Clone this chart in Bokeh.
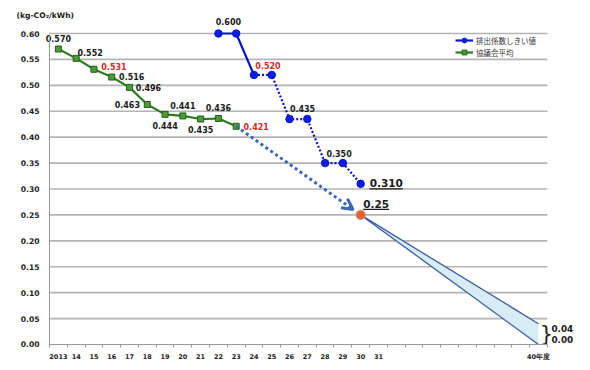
from bokeh.plotting import figure
from bokeh.models import (FixedTicker, Label, Legend, LegendItem, Arrow, OpenHead, Range1d)
from bokeh.embed import file_html
from bokeh.resources import INLINE
from bokeh.core.properties import value

# ---------------- data ----------------
tick_labels = ["2013", "14", "15", "16", "17", "18", "19", "20", "21", "22", "23",
               "24", "25", "26", "27", "28", "29", "30", "31",
               "", "", "", "", "", "", "", "", "40年度"]

green_x = [0, 1, 2, 3, 4, 5, 6, 7, 8, 9, 10]          # 2013 .. 2023
green_v = [0.570, 0.552, 0.531, 0.516, 0.496, 0.463, 0.444, 0.441, 0.435, 0.436, 0.421]
green_lbl = ["0.570", "0.552", "0.531", "0.516", "0.496", "0.463", "0.444", "0.441", "0.435", "0.436", "0.421"]
green_red = [False, False, True, False, False, False, False, False, False, False, True]

blue_x = [9, 10, 11, 12, 13, 14, 15, 16, 17]           # 2022 .. 2030
blue_v = [0.600, 0.600, 0.520, 0.520, 0.435, 0.435, 0.350, 0.350, 0.310]
blue_solid_n = 3                                        # 2022-2024 solid, then dotted

target_x = [17]     # 2030
target_v = [0.25]

goal_x = [27]       # 2040
goal_hi = [0.04]
goal_lo = [0.00]

y_ticks = [0.00, 0.05, 0.10, 0.15, 0.20, 0.25, 0.30, 0.35, 0.40, 0.45, 0.50, 0.55, 0.60]

# ---------------- styles / layout ----------------
W, H = 582, 362
BT = 10
AXIS_LEFT_PX = 49          # where the value axis sits
AXIS_TOP_PAD = 23          # px above the top tick
AXIS_BOTTOM_PAD = 18       # px below the category axis
XPX = 17.78                # px per category
YPX = 518.3                # px per unit
X0 = -0.5 - AXIS_LEFT_PX / XPX
X1 = X0 + W / XPX
Y1 = y_ticks[-1] + AXIS_TOP_PAD / YPX
Y0 = -AXIS_BOTTOM_PAD / YPX

FONT = value("DejaVu Sans")
BLACK = "#1a1a1a"
RED = "#d42a2a"
GREEN = "#2d7a1f"
BLUE = "#0a16c8"
ARROW = "#3a68b0"

p = figure(width=W, height=H, output_backend="svg", toolbar_location=None,
           x_range=Range1d(X0, X1), y_range=Range1d(Y0, Y1),
           min_border_left=0, min_border_top=BT, min_border_bottom=0, min_border_right=0)
p.outline_line_color = None
p.xgrid.visible = False
p.ygrid.visible = False

# axes
n_cat = len(tick_labels)
xa = p.xaxis[0]
xa.fixed_location = 0
xa.ticker = FixedTicker(ticks=list(range(n_cat)), minor_ticks=[i - 0.5 for i in range(n_cat + 1)])
xa.major_label_overrides = {i: t for i, t in enumerate(tick_labels)}
xa.bounds = (-0.5, n_cat - 0.5)
xa.major_tick_line_color = None
xa.major_tick_out = 0
xa.major_tick_in = 0
xa.minor_tick_out = 3
xa.minor_tick_in = 0
xa.minor_tick_line_color = "#9a9a9a"
xa.axis_line_color = "#9a9a9a"
xa.major_label_text_font = "DejaVu Sans"
xa.major_label_text_font_style = "bold"
xa.major_label_text_font_size = "6.5px"
xa.major_label_text_color = "#222222"
xa.major_label_standoff = 6

ya = p.yaxis[0]
ya.fixed_location = -0.5
ya.ticker = FixedTicker(ticks=y_ticks)
ya.bounds = (0, y_ticks[-1])
ya.major_label_overrides = {t: f"{t:.2f}" for t in y_ticks}
ya.major_tick_line_color = None
ya.major_tick_out = 0
ya.major_tick_in = 0
ya.minor_tick_line_color = None
ya.axis_line_color = "#9a9a9a"
ya.major_label_text_font = "DejaVu Sans"
ya.major_label_text_font_style = "bold"
ya.major_label_text_font_size = "7.6px"
ya.major_label_text_color = "#222222"
ya.major_label_standoff = 10

# horizontal grid lines (bounded to the category span)
gy = y_ticks[1:]
p.segment(x0=[-0.5] * len(gy), x1=[n_cat - 0.5] * len(gy), y0=gy, y1=gy,
          line_color="#b4b4b4", line_width=1.6)

# 2030 -> 2040 wedge
p.patch(x=[target_x[0], goal_x[0], goal_x[0]], y=[target_v[0], goal_hi[0], goal_lo[0]],
        fill_color="#d8ecf6", line_color=None)
p.segment(x0=[target_x[0], target_x[0]], y0=[target_v[0], target_v[0]],
          x1=[goal_x[0], goal_x[0]], y1=[goal_hi[0], goal_lo[0]],
          line_color="#3b5d9e", line_width=1.3)

# dotted arrow from 2023 average to 2030 target
frac = 0.94
ax_end = green_x[-1] + (target_x[0] - green_x[-1]) * frac
ay_end = green_v[-1] + (target_v[0] - green_v[-1]) * frac
p.add_layout(Arrow(x_start=green_x[-1], y_start=green_v[-1], x_end=ax_end, y_end=ay_end,
                   line_color=ARROW, line_width=3, line_dash="3 3",
                   end=OpenHead(size=11, line_color=ARROW, line_width=3)))

# green series
g_line = p.line(green_x, green_v, line_color=GREEN, line_width=2.2)
g_pts = p.scatter(green_x, green_v, marker="square", size=6, fill_color="#4d9a36",
                  line_color="#23601a", line_width=1)

# blue series
b_solid = p.line(blue_x[:blue_solid_n], blue_v[:blue_solid_n], line_color=BLUE, line_width=2.2)
p.line(blue_x[blue_solid_n - 1:], blue_v[blue_solid_n - 1:], line_color=BLUE, line_width=2.2,
       line_dash="2 2")
b_pts = p.scatter(blue_x, blue_v, marker="circle", size=7.5, fill_color="#0a1ee6",
                  line_color=BLUE, line_width=1)

# target point
p.scatter(target_x, target_v, marker="circle", size=9.5, fill_color="#e8602c",
          line_color="#c9a89a", line_width=1)

# green labels
g_dx = [0, 14, 20, 20, 19, -20, 0, 0, 0, 0, 20]
g_dy = [-11, -6, -3, -1, 0, 0, 11, -10, 10, -11, 0]
for x, v, t, r, dx, dy in zip(green_x, green_v, green_lbl, green_red, g_dx, g_dy):
    p.text(x=[x], y=[v], text=[t], x_offset=dx, y_offset=dy, text_align="center",
           text_baseline="middle", text_font=FONT, text_font_style="bold",
           text_font_size="8px", text_color=RED if r else BLACK)

# blue labels (every other step)
b_idx = [0, 2, 4, 6]
b_dx = [10, 14, 13, 14]
b_dy = [-12, -9, -11, -10]
b_red = [False, True, False, False]
for i, dx, dy, r in zip(b_idx, b_dx, b_dy, b_red):
    p.text(x=[blue_x[i]], y=[blue_v[i]], text=[f"{blue_v[i]:.3f}"], x_offset=dx, y_offset=dy,
           text_align="center", text_baseline="middle", text_font=FONT,
           text_font_style="bold", text_font_size="8px", text_color=RED if r else BLACK)

# big underlined labels
BIG = 10.5
def big_label(x, v, txt, dx, dy, ul_dy):
    p.text(x=[x], y=[v], text=[txt], x_offset=dx, y_offset=dy, text_align="left",
           text_baseline="middle", text_font=FONT, text_font_style="bold",
           text_font_size=f"{BIG}px", text_color=BLACK)
    wpx = (0.696 * sum(c.isdigit() for c in txt) + 0.38 * txt.count(".")) * BIG
    yu = v - (dy + ul_dy) / YPX
    p.segment(x0=[x + dx / XPX], x1=[x + (dx + wpx) / XPX], y0=[yu], y1=[yu],
              line_color=BLACK, line_width=1.2)

big_label(blue_x[-1], blue_v[-1], f"{blue_v[-1]:.3f}", 9, -1, 6)
big_label(target_x[0], target_v[0], f"{target_v[0]:.2f}", 2.5, -11, 5.5)

# 2040 range labels with brace
p.text(x=goal_x, y=[(goal_hi[0] + goal_lo[0]) / 2], text=["}"], x_offset=8, y_offset=0,
       text_align="center", text_baseline="middle", text_font=value("DejaVu Sans"),
       text_font_size="21px", text_color="#222222")
p.text(x=goal_x, y=goal_hi, text=[f"{goal_hi[0]:.2f}"], x_offset=13, y_offset=5,
       text_align="left", text_baseline="middle", text_font=FONT, text_font_style="bold",
       text_font_size="8.8px", text_color=BLACK)
p.text(x=goal_x, y=goal_lo, text=[f"{goal_lo[0]:.2f}"], x_offset=13, y_offset=-5,
       text_align="left", text_baseline="middle", text_font=FONT, text_font_style="bold",
       text_font_size="8.8px", text_color=BLACK)

# unit label
p.add_layout(Label(x=16, x_units="screen", y=y_ticks[-1], y_offset=18, text="(kg-CO₂/kWh)",
                   text_font="DejaVu Sans", text_font_style="bold", text_font_size="7.6px",
                   text_color="#222222", text_baseline="middle", text_align="left"))

# legend
legend = Legend(items=[LegendItem(label="排出係数しきい値", renderers=[b_solid, b_pts]),
                       LegendItem(label="協議会平均", renderers=[g_line, g_pts])],
                location=(406 + AXIS_LEFT_PX, 286 + AXIS_BOTTOM_PAD), padding=0, spacing=0, margin=0,
                glyph_width=18, glyph_height=12, label_height=12, label_standoff=3,
                label_text_font="Noto Sans CJK JP", label_text_font_size="7.5px",
                label_text_color="#333333", border_line_color=None,
                background_fill_alpha=0)
p.add_layout(legend)

open("out.html", "w").write(file_html(p, INLINE))
